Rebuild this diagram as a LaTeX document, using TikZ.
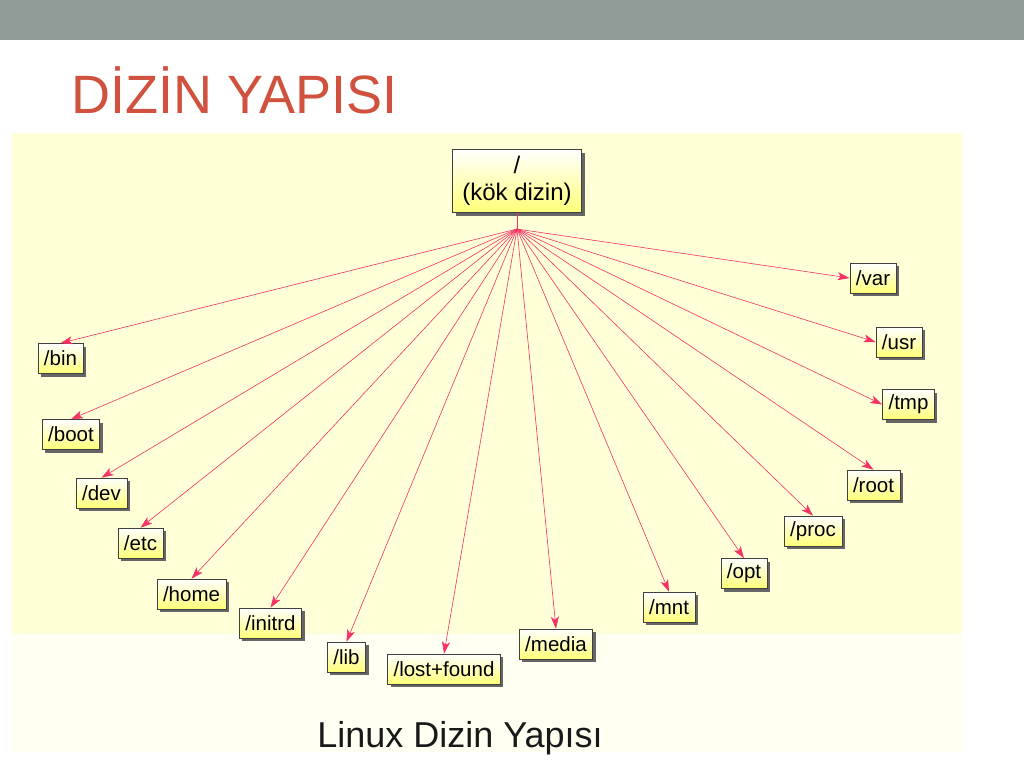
\documentclass[tikz,border=0pt]{standalone}
\usepackage{fontspec}
\setmainfont{Liberation Sans}
\usepackage{tikz}
\usetikzlibrary{arrows.meta,positioning,shadows,calc}

\definecolor{barGray}{RGB}{143,156,151}
\definecolor{titleRed}{RGB}{208,82,62}
\definecolor{panelYellow}{RGB}{255,255,216}
\definecolor{panelLight}{RGB}{255,255,242}
\definecolor{boxYellow}{RGB}{255,255,120}
\definecolor{linkPink}{RGB}{245,50,100}

\begin{document}
\begin{tikzpicture}[
      x=1pt,y=-1pt,
      dirbox/.style={draw=black!75,line width=0.6pt,top color=white,bottom color=boxYellow,
        drop shadow={shadow xshift=3pt,shadow yshift=-3pt,fill=black!60,opacity=1},
        minimum height=30,inner xsep=6,inner ysep=0,
        font=\fontsize{20.5}{24}\selectfont},
      link/.style={draw=linkPink,line width=0.6pt},
      arrowtip/.style={-{Stealth[length=12pt,width=8pt,inset=3pt,fill=linkPink]}}
    ]
    \useasboundingbox (0,0) rectangle (1024,768);
    % slide background
    \fill[white] (0,0) rectangle (1024,768);
    \fill[barGray] (0,0) rectangle (1024,40);
    \fill[panelLight] (12,133) rectangle (962,752);
    \fill[panelYellow] (12,133) rectangle (962,634);
    \node[anchor=base west,inner sep=0,text=titleRed,font=\fontsize{54}{58}\selectfont]
      (title) at (71,113) {DİZİN YAPISI};
    \node[anchor=base,inner sep=0,text=black!90,font=\fontsize{36}{40}\selectfont]
      (caption) at (460,747) {Linux Dizin Yapısı};
    % tree
    \node[dirbox,minimum width=129,minimum height=63,align=center,
      font=\fontsize{24}{27}\selectfont] (kok) at (517,181) {/\\(kök dizin)};
    \coordinate (hub) at (517,229);
    \begin{scope}[every node/.style={dirbox}]
      \node (var)       at (873,278)   {/var};
      \node (usr)       at (899,342)   {/usr};
      \node (tmp)       at (908.5,404.5) {/tmp};
      \node (rootdir)   at (873.5,485) {/root};
      \node (proc)      at (813,531)   {/proc};
      \node (opt)       at (744,573.5) {/opt};
      \node (mnt)       at (669,607)   {/mnt};
      \node (media)     at (556,644)   {/media};
      \node (lostfound) at (444,669)   {/lost+found};
      \node (lib)       at (346.5,657) {/lib};
      \node (initrd)    at (270.5,623) {/initrd};
      \node (home)      at (191.5,594) {/home};
      \node (etc)       at (140.5,543) {/etc};
      \node (dev)       at (101.5,493) {/dev};
      \node (boot)      at (71,434.5)  {/boot};
      \node (bin)       at (60.5,358.5) {/bin};
    \end{scope}
    \draw[link] (kok.south) -- (hub);
    \path[link]
      (hub) edge [arrowtip] (var.west) edge [arrowtip] (usr.west) edge [arrowtip] (tmp.west)
      (hub) edge [arrowtip] (rootdir.north) edge [arrowtip] (proc.north) edge [arrowtip] (opt.north)
      (hub) edge [arrowtip] (mnt.north) edge [arrowtip] (media.north) edge [arrowtip] (lostfound.north)
      (hub) edge [arrowtip] (lib.north) edge [arrowtip] (initrd.north) edge [arrowtip] (home.north)
      (hub) edge [arrowtip] (etc.north) edge [arrowtip] (dev.north) edge [arrowtip] (boot.north)
      (hub) edge [arrowtip] (bin.north)
      ;
  \end{tikzpicture}
\end{document}
